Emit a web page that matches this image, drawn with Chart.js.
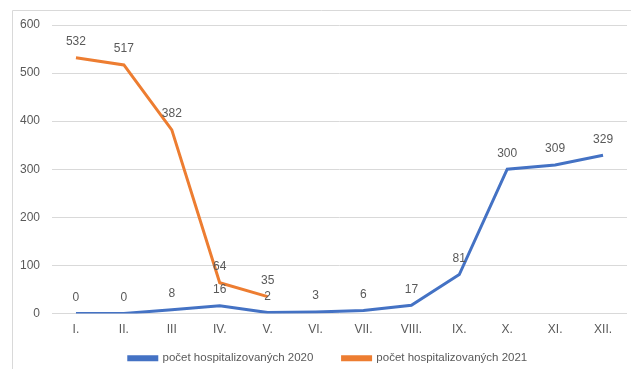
<!DOCTYPE html>
<html>
<head>
<meta charset="utf-8">
<script src="https://cdn.jsdelivr.net/npm/chart.js@4"></script>
<style>
  html, body { margin: 0; padding: 0; background: #fff; }
  #wrap { position: relative; width: 631px; height: 369px; }
</style>
</head>
<body>
<div id="wrap"><canvas id="Charts_Line_Hospitalizace"></canvas></div>
<script>
var months = ['I.', 'II.', 'III', 'IV.', 'V.', 'VI.', 'VII.', 'VIII.', 'IX.', 'X.', 'XI.', 'XII.'];
var hosp2020 = [0, 0, 8, 16, 2, 3, 6, 17, 81, 300, 309, 329];
var hosp2021 = [532, 517, 382, 64, 35];
var yTicks = [0, 100, 200, 300, 400, 500, 600];

var textColor = '#595959';
var gridColor = '#d9d9d9';
var fontFamily = '"Liberation Sans", Arial, sans-serif';

// frame around the chart (top + left edge only visible in the reference)
var framePlugin = {
  id: 'frame',
  beforeDraw: function (chart) {
    var ctx = chart.ctx;
    ctx.save();
    ctx.strokeStyle = gridColor;
    ctx.lineWidth = 1;
    ctx.beginPath();
    ctx.moveTo(12.5, chart.height);
    ctx.lineTo(12.5, 10.5);
    ctx.lineTo(chart.width, 10.5);
    ctx.stroke();
    ctx.restore();
  },
  // legend in the reference sits a bit right of centre and lower
  afterLayout: function (chart) {
    if (!chart.legend) return;
    chart.legend.left += 17;
    chart.legend.top += 5;
    chart.legend.bottom += 5;
  }
};

// value labels above each point
var valueLabels = {
  id: 'valueLabels',
  afterDatasetsDraw: function (chart) {
    var ctx = chart.ctx;
    ctx.save();
    ctx.fillStyle = textColor;
    ctx.font = '12px ' + fontFamily;
    ctx.textAlign = 'center';
    ctx.textBaseline = 'middle';
    chart.data.datasets.forEach(function (ds, i) {
      chart.getDatasetMeta(i).data.forEach(function (pt, j) {
        if (ds.data[j] == null) return;
        ctx.fillText(ds.data[j], pt.x, pt.y - 16);
      });
    });
    ctx.restore();
  }
};

var ctx = document.getElementById('Charts_Line_Hospitalizace').getContext('2d');

new Chart(ctx, {
  type: 'line',
  data: {
    labels: months,
    datasets: [{
      label: 'počet hospitalizovaných 2020',
      data: hosp2020,
      borderColor: '#4472C4',
      backgroundColor: '#4472C4',
      borderWidth: 3,
      pointRadius: 0,
      tension: 0
    }, {
      label: 'počet hospitalizovaných 2021',
      data: hosp2021,
      borderColor: '#ED7D31',
      backgroundColor: '#ED7D31',
      borderWidth: 3,
      pointRadius: 0,
      tension: 0
    }]
  },
  options: {
    responsive: true,
    maintainAspectRatio: false,
    animation: false,
    layout: {
      padding: { top: 25, left: 12, right: 4, bottom: 0 }
    },
    scales: {
      x: {
        offset: true,
        afterFit: function (scale) { scale.height = 24; },
        grid: { display: false, drawTicks: false },
        border: { display: false },
        ticks: { color: textColor, font: { family: fontFamily, size: 12 }, padding: 9, maxRotation: 0 }
      },
      y: {
        min: 0,
        max: 600,
        afterFit: function (scale) { scale.width = 40; },
        afterBuildTicks: function (scale) {
          scale.ticks = yTicks.map(function (v) { return { value: v }; });
        },
        grid: { color: gridColor, drawTicks: false },
        border: { display: false },
        ticks: { color: textColor, font: { family: fontFamily, size: 12 }, padding: 12 }
      }
    },
    plugins: {
      legend: {
        position: 'bottom',
        labels: {
          color: textColor,
          font: { family: fontFamily, size: 11.5 },
          boxWidth: 28,
          boxHeight: 3,
          padding: 10,
          generateLabels: function (chart) {
            var items = Chart.defaults.plugins.legend.labels.generateLabels(chart);
            // wider gap between the two entries, as in the reference
            items[0].text += '\u00A0\u00A0\u00A0\u00A0\u00A0\u00A0';
            return items;
          }
        }
      },
      tooltip: { enabled: false }
    }
  },
  plugins: [framePlugin, valueLabels]
});
</script>
</body>
</html>
